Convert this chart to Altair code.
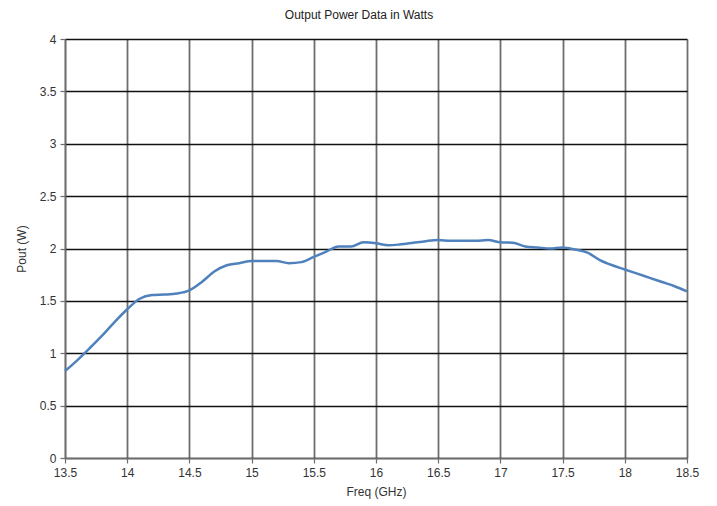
import altair as alt
import pandas as pd

freq = [13.5, 13.6, 13.7, 13.8, 13.9, 14.0, 14.1, 14.2, 14.3, 14.4, 14.5,
        14.6, 14.7, 14.8, 14.9, 15.0, 15.1, 15.2, 15.3, 15.4, 15.5,
        15.6, 15.7, 15.8, 15.9, 16.0, 16.1, 16.2, 16.3, 16.4, 16.5,
        16.6, 16.7, 16.8, 16.9, 17.0, 17.1, 17.2, 17.3, 17.4, 17.5,
        17.6, 17.7, 17.8, 17.9, 18.0, 18.1, 18.2, 18.3, 18.4, 18.5]
pout = [0.83, 0.935, 1.05, 1.17, 1.30, 1.42, 1.52, 1.555, 1.56, 1.57, 1.60,
        1.68, 1.78, 1.84, 1.86, 1.88, 1.88, 1.88, 1.86, 1.87, 1.92,
        1.97, 2.02, 2.02, 2.06, 2.05, 2.03, 2.04, 2.055, 2.07, 2.08,
        2.075, 2.075, 2.075, 2.08, 2.06, 2.055, 2.02, 2.01, 2.00, 2.01,
        1.99, 1.96, 1.89, 1.84, 1.80, 1.76, 1.72, 1.68, 1.64, 1.59]

x_ticks = [13.5, 14, 14.5, 15, 15.5, 16, 16.5, 17, 17.5, 18, 18.5]
y_ticks = [0, 0.5, 1, 1.5, 2, 2.5, 3, 3.5, 4]

df = pd.DataFrame({"freq": freq, "pout": pout})

FONT = "Liberation Sans"

line = alt.Chart(df).mark_line(color="#4F81BD", strokeWidth=2.5, interpolate="monotone").encode(
    x=alt.X("freq:Q", scale=alt.Scale(domain=[13.5, 18.5], nice=False, zero=False),
            axis=alt.Axis(values=x_ticks, title="Freq (GHz)", labelFlush=False, format="~g",
                          gridColor="#6e6e6e", gridWidth=1.8, gridOpacity=1,
                          domainColor="#6e6e6e", domainWidth=1.5,
                          tickColor="#6e6e6e", tickSize=5, tickWidth=1.2,
                          labelPadding=4, titlePadding=8)),
    y=alt.Y("pout:Q", scale=alt.Scale(domain=[0, 4], nice=False),
            axis=alt.Axis(values=y_ticks, title="Pout (W)", labelFlush=False, format="~g",
                          gridColor="#111111", gridWidth=1.5, gridOpacity=1,
                          domainColor="#6e6e6e", domainWidth=1.5,
                          tickColor="#6e6e6e", tickSize=5, tickWidth=1.2,
                          labelPadding=4, titlePadding=11)),
)

chart = line.properties(
    width=622, height=419,
    autosize=alt.AutoSizeParams(type="none"),
    padding={"left": 57, "top": 31, "right": 22, "bottom": 45},
    title=alt.TitleParams("Output Power Data in Watts", anchor="middle", frame="group",
                          dx=-17, offset=11, fontSize=12, fontWeight="normal",
                          font=FONT, color="#222222"),
).configure_axis(
    labelFont=FONT, titleFont=FONT, labelFontSize=12, titleFontSize=12,
    labelColor="#333333", titleColor="#333333", titleFontWeight="normal",
).configure_view(stroke=None)

chart.save("out.html", embed_options={"renderer": "svg", "actions": False})
